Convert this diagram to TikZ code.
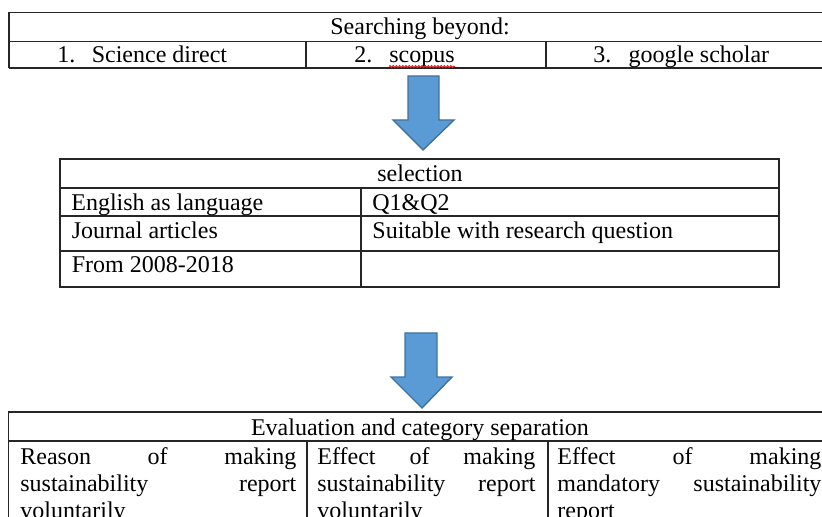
\documentclass[tikz,border=0pt]{standalone}
\usepackage{fontspec}
\setmainfont{Liberation Serif}
\usetikzlibrary{decorations.pathmorphing}
\definecolor{arrowfill}{RGB}{91,155,213}
\definecolor{arrowline}{RGB}{65,113,156}
\definecolor{spellred}{RGB}{220,40,40}
\tikzset{
  cell/.style={inner sep=0pt, font=\fontsize{12}{13.4}\selectfont},
  wrapcell/.style={cell, align=justify, text width=#1},
  rule/.style={line width=0.55pt, black!85},
  blockarrow/.style={fill=arrowfill, draw=arrowline, line width=0.7pt, line join=miter}
}
\begin{document}
\begin{tikzpicture}[x=0.5pt, y=-0.5pt]
  \useasboundingbox (0,0) rectangle (822,517);
  \begin{scope}[rule]
    \draw (822,12.5) -- (9,12.5) -- (9,68);
    \draw (9,41.5) -- (822,41.5);
    \draw (306,41.5) -- (306,68);
    \draw (546,41.5) -- (546,68);
    \draw[line width=1pt] (9,68) -- (822,68);
  \end{scope}
  \draw
    (420,35) node[cell, anchor=base] (search) {Searching beyond:}
    (57,63) node[cell, anchor=base west] (sd) {1.\hspace{8.2pt}Science direct}
    (354,63) node[cell, anchor=base west] (sc) {2.\hspace{8.5pt}scopus}
    (593,63) node[cell, anchor=base west] (gs) {3.\hspace{8.6pt}google scholar};
  \draw[spellred, line width=0.5pt, decorate,
    decoration={snake, amplitude=0.45pt, segment length=1.6pt}]
    (389,66.5) -- (455,66.5);
  \draw[blockarrow] (408,76) -- (439,76) -- (439,120) -- (454,120)
    -- (423,150) -- (393,120) -- (408,120) -- cycle;
  \begin{scope}[rule]
    \draw (60,159) rectangle (779,287);
    \draw (60,188) -- (779,188);
    \draw (60,216) -- (779,216);
    \draw (60,251) -- (779,251);
    \draw (361,188) -- (361,287);
  \end{scope}
  \draw
    (420,182) node[cell, anchor=base] (sel) {selection}
    (71,211) node[cell, anchor=base west] (eng) {English as language}
    (372,211) node[cell, anchor=base west] (qone) {Q1\&Q2}
    (71.5,239) node[cell, anchor=base west] (jour) {Journal articles}
    (372,239) node[cell, anchor=base west] (suit) {Suitable with research question}
    (71.5,273) node[cell, anchor=base west] (year) {From 2008-2018};
  \draw[blockarrow] (405,333) -- (437,333) -- (437,377) -- (452,377)
    -- (422,408) -- (391,377) -- (405,377) -- cycle;
  \begin{scope}[rule]
    \draw (822,412) -- (8.5,412) -- (8.5,517);
    \draw (8.5,441) -- (822,441);
    \draw (307,441) -- (307,517);
    \draw (548,441) -- (548,517);
  \end{scope}
  \draw
    (420,435) node[cell, anchor=base] (eval) {Evaluation and category separation}
    (20,464.5) node[wrapcell=138pt, anchor=base west] (reason)
      {Reason\hfill of\hfill making\break sustainability\hfill report\break voluntarily}
    (317,464.5) node[wrapcell=109pt, anchor=base west] (effvol)
      {Effect\hfill of\hfill making\break sustainability\hfill report\break voluntarily}
    (557,464.5) node[wrapcell=132pt, anchor=base west] (effman)
      {Effect\hfill of\hfill making\break mandatory\hfill sustainability\break report};
\end{tikzpicture}
\end{document}
